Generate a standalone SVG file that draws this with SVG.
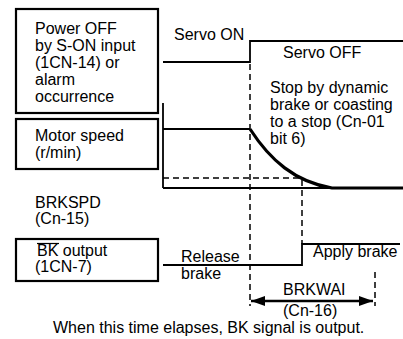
<svg xmlns="http://www.w3.org/2000/svg" width="403" height="339" viewBox="0 0 403 339">
<style>
text{font-family:"Liberation Sans",Arial,sans-serif;font-size:16px;fill:#000}
.box{fill:#fff;stroke:#000;stroke-width:2.2}
.sig{fill:none;stroke:#000;stroke-width:1.8}
.thick{fill:none;stroke:#000;stroke-width:3.2}
.dash{fill:none;stroke:#000;stroke-width:1.5;stroke-dasharray:6 4}
</style>
<defs>
<marker id="ah" viewBox="0 0 14 10" refX="14" refY="5" markerWidth="14" markerHeight="10" markerUnits="userSpaceOnUse" orient="auto-start-reverse">
<path d="M0,0 L14,5 L0,10 Z" fill="#000"/>
</marker>
</defs>
<rect width="403" height="339" fill="#fff"/>
<g id="node-power-off">
<rect class="box" x="16" y="9" width="142" height="104"/>
<text x="35" y="34">Power OFF</text>
<text x="35" y="51">by S-ON input</text>
<text x="35" y="68">(1CN-14) or</text>
<text x="35" y="85">alarm</text>
<text x="35" y="102">occurrence</text>
</g>
<g id="node-motor-speed">
<rect class="box" x="16" y="119" width="142" height="50"/>
<text x="35" y="141">Motor speed</text>
<text x="35" y="158">(r/min)</text>
</g>
<g id="node-brkspd">
<text x="35" y="208">BRKSPD</text>
<text x="35" y="224">(Cn-15)</text>
</g>
<g id="node-bk-output">
<rect class="box" x="16" y="239" width="142" height="42"/>
<text x="37" y="256">BK output</text>
<line x1="37" y1="243.5" x2="59" y2="243.5" stroke="#000" stroke-width="1.2"/>
<text x="35" y="272">(1CN-7)</text>
</g>
<g id="connectors">
<line class="sig" x1="163" y1="103" x2="163" y2="188"/>
<polyline class="sig" points="163,62 250,62 250,41 403,41"/>
<line class="sig" x1="163" y1="129" x2="250" y2="129"/>
<path class="thick" d="M250,129 C270,160 295,182 332,188 L403,188"/>
<line class="sig" x1="163" y1="188" x2="332" y2="188"/>
<line class="dash" x1="163" y1="178" x2="302" y2="178"/>
<line class="dash" x1="250" y1="64" x2="250" y2="306"/>
<line class="dash" x1="302" y1="180" x2="302" y2="244"/>
<line class="dash" x1="375" y1="272" x2="375" y2="306"/>
<polyline class="sig" points="163,265 302,265 302,244 400,244"/>
<line x1="251" y1="301" x2="373" y2="301" stroke="#000" stroke-width="2.5" marker-start="url(#ah)" marker-end="url(#ah)"/>
</g>
<g id="labels">
<text x="174" y="40">Servo ON</text>
<text x="283" y="58">Servo OFF</text>
<text x="270" y="93">Stop by dynamic</text>
<text x="270" y="110">brake or coasting</text>
<text x="270" y="127">to a stop (Cn-01</text>
<text x="270" y="144">bit 6)</text>
<text x="181" y="262">Release</text>
<text x="181" y="279">brake</text>
<text x="313" y="257">Apply brake</text>
<text x="283" y="295">BRKWAI</text>
<text x="283" y="316">(Cn-16)</text>
<text x="53" y="333">When this time elapses, BK signal is output.</text>
</g>
</svg>
